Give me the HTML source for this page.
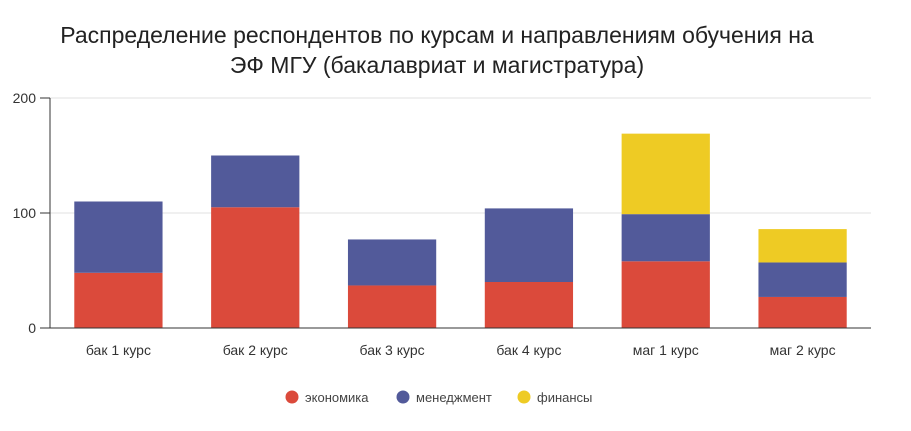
<!DOCTYPE html>
<html><head><meta charset="utf-8"><style>
body{margin:0;background:#fff;font-family:"Liberation Sans",sans-serif;}
svg{display:block}
</style></head><body>
<svg id="c" width="911" height="431">
<text x="437" y="43" text-anchor="middle" font-size="23" fill="#222">Распределение респондентов по курсам и направлениям обучения на</text>
<text x="437" y="73" text-anchor="middle" font-size="23" fill="#222">ЭФ МГУ (бакалавриат и магистратура)</text>
<g id="grid"></g><g id="bars"></g><g id="axes"></g><g id="legend"></g>
</svg>
<script>
const categories=["бак 1 курс","бак 2 курс","бак 3 курс","бак 4 курс","маг 1 курс","маг 2 курс"];
const economics=[48,105,37,40,58,27];
const management=[62,45,40,64,41,30];
const finance=[0,0,0,0,70,29];
const yTicks=[0,100,200];
const seriesNames=["экономика","менеджмент","финансы"];
const colors=["#db4a3b","#525a9a","#eecb24"];
const NS="http://www.w3.org/2000/svg";
const L=50,R=871,T=98,B=328,maxY=200;
const y=v=>B-(B-T)*v/maxY;
const band=(R-L)/categories.length;
const bw=band*0.645;
const x=i=>L+band*i+(band-bw)/2;
function mk(tag,attrs,parent){const e=document.createElementNS(NS,tag);for(const k in attrs)e.setAttribute(k,attrs[k]);document.getElementById(parent).appendChild(e);return e;}
yTicks.forEach(t=>{
 if(t>0){const g=mk("line",{x1:L,x2:R,y1:y(t),y2:y(t),stroke:"#e2e2e2"},"grid");
 
 }
 const tk=mk("line",{x1:L-10,x2:L,y1:y(t),y2:y(t),stroke:"#333"},"axes");
 
 
 const tx=mk("text",{x:L-14,y:y(t)+5,"text-anchor":"end","font-size":"14",fill:"#333"},"axes");
 tx.textContent=t;
 
 
});
const series=[economics,management,finance];
categories.forEach((c,i)=>{
 let base=0;
 series.forEach((s,k)=>{
  if(s[i]>0){const r=mk("rect",{x:x(i),y:y(base+s[i]),width:bw,height:y(base)-y(base+s[i]),fill:colors[k]},"bars");
  
  }
  base+=s[i];
 });
 const t=mk("text",{x:x(i)+bw/2,y:B+27,"text-anchor":"middle","font-size":"14",fill:"#333"},"axes");
 t.textContent=c;
 
 
});
const ya=mk("line",{x1:L,x2:L,y1:T,y2:B,stroke:"#333"},"axes");


const xa=mk("line",{x1:L,x2:R,y1:B,y2:B,stroke:"#333"},"axes");


const lx=[292,403,524];
seriesNames.forEach((n,k)=>{
 const d=mk("circle",{cx:lx[k],cy:397,r:6.5,fill:colors[k]},"legend");
 
 
 const t=mk("text",{x:lx[k]+13,y:402,"font-size":"13",fill:"#444"},"legend");
 t.textContent=n;
 
 
});
</script>
</body></html>
